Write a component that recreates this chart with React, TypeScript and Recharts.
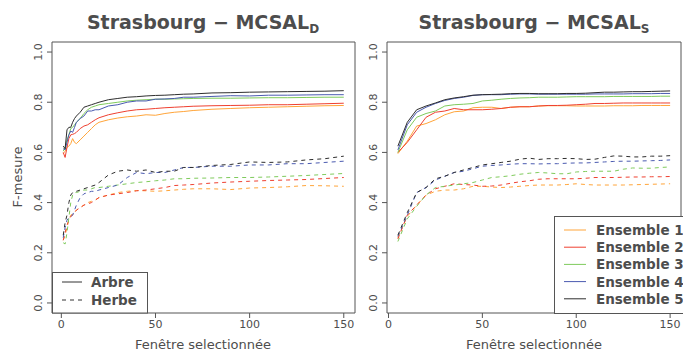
import React from 'react';
import { LineChart, Line, XAxis, YAxis, ReferenceArea } from 'recharts';

// MCSAL_D : fenêtres 1..150
const xD = [1, 2, 3, 4, 5, 6, 7, 8, 10, 12, 14, 16, 18, 20, 25, 30, 35, 40, 45, 50, 55, 60, 65, 70, 80, 90, 100, 110, 120, 130, 140, 150];

const dArbre1 = [0.595, 0.605, 0.62, 0.625, 0.635, 0.655, 0.64, 0.635, 0.65, 0.665, 0.68, 0.695, 0.71, 0.72, 0.73, 0.737, 0.742, 0.745, 0.75, 0.748, 0.755, 0.76, 0.763, 0.767, 0.772, 0.775, 0.778, 0.78, 0.782, 0.784, 0.786, 0.787];
const dArbre2 = [0.6, 0.58, 0.62, 0.655, 0.67, 0.672, 0.675, 0.68, 0.695, 0.705, 0.71, 0.72, 0.73, 0.738, 0.75, 0.758, 0.765, 0.77, 0.772, 0.775, 0.778, 0.78, 0.782, 0.784, 0.786, 0.787, 0.788, 0.79, 0.79, 0.792, 0.794, 0.796];
const dArbre3 = [0.605, 0.62, 0.65, 0.67, 0.695, 0.7, 0.71, 0.72, 0.735, 0.755, 0.77, 0.78, 0.785, 0.79, 0.795, 0.8, 0.805, 0.808, 0.81, 0.812, 0.812, 0.813, 0.814, 0.815, 0.816, 0.816, 0.817, 0.818, 0.818, 0.819, 0.82, 0.82];
const dArbre4 = [0.615, 0.61, 0.64, 0.67, 0.685, 0.68, 0.7, 0.72, 0.735, 0.745, 0.765, 0.765, 0.77, 0.77, 0.785, 0.79, 0.8, 0.805, 0.805, 0.812, 0.813, 0.815, 0.82, 0.82, 0.823, 0.826, 0.825, 0.828, 0.828, 0.829, 0.83, 0.83];
const dArbre5 = [0.625, 0.615, 0.69, 0.7, 0.7, 0.72, 0.735, 0.745, 0.76, 0.78, 0.785, 0.79, 0.795, 0.8, 0.81, 0.815, 0.82, 0.822, 0.825, 0.827, 0.828, 0.83, 0.832, 0.833, 0.837, 0.838, 0.84, 0.841, 0.842, 0.843, 0.844, 0.846];

const dHerbe1 = [0.25, 0.27, 0.3, 0.33, 0.35, 0.355, 0.36, 0.37, 0.38, 0.39, 0.4, 0.405, 0.41, 0.42, 0.43, 0.44, 0.445, 0.448, 0.447, 0.445, 0.447, 0.45, 0.453, 0.455, 0.455, 0.452, 0.458, 0.46, 0.463, 0.468, 0.467, 0.465];
const dHerbe2 = [0.25, 0.28, 0.31, 0.33, 0.345, 0.35, 0.36, 0.37, 0.38, 0.39, 0.395, 0.4, 0.41, 0.42, 0.43, 0.435, 0.44, 0.447, 0.45, 0.455, 0.46, 0.468, 0.47, 0.472, 0.478, 0.482, 0.485, 0.488, 0.49, 0.492, 0.496, 0.5];
const dHerbe3 = [0.24, 0.235, 0.28, 0.34, 0.4, 0.43, 0.44, 0.44, 0.445, 0.45, 0.45, 0.455, 0.46, 0.46, 0.465, 0.47, 0.475, 0.48, 0.483, 0.487, 0.49, 0.495, 0.495, 0.497, 0.498, 0.5, 0.5, 0.502, 0.505, 0.508, 0.512, 0.516];
const dHerbe4 = [0.26, 0.3, 0.33, 0.34, 0.345, 0.35, 0.37, 0.39, 0.42, 0.435, 0.44, 0.445, 0.445, 0.45, 0.46, 0.47, 0.5, 0.52, 0.515, 0.52, 0.52, 0.53, 0.54, 0.54, 0.545, 0.545, 0.55, 0.55, 0.555, 0.555, 0.56, 0.565];
const dHerbe5 = [0.27, 0.32, 0.35, 0.4, 0.43, 0.44, 0.44, 0.445, 0.45, 0.455, 0.46, 0.465, 0.47, 0.48, 0.51, 0.525, 0.53, 0.525, 0.53, 0.52, 0.525, 0.525, 0.54, 0.54, 0.548, 0.552, 0.562, 0.56, 0.562, 0.57, 0.575, 0.585];

// MCSAL_S : pas de 5
const xS = [5, 10, 15, 20, 25, 30, 35, 40, 45, 50, 55, 60, 65, 70, 75, 80, 85, 90, 95, 100, 105, 110, 115, 120, 125, 130, 135, 140, 145, 150];

const sArbre1 = [0.595, 0.645, 0.705, 0.715, 0.73, 0.75, 0.762, 0.765, 0.778, 0.78, 0.78, 0.775, 0.78, 0.782, 0.782, 0.785, 0.786, 0.786, 0.786, 0.785, 0.785, 0.785, 0.785, 0.786, 0.786, 0.786, 0.787, 0.787, 0.787, 0.787];
const sArbre2 = [0.6, 0.64, 0.69, 0.74, 0.76, 0.765, 0.775, 0.77, 0.77, 0.77, 0.772, 0.775, 0.78, 0.782, 0.782, 0.785, 0.787, 0.787, 0.788, 0.79, 0.792, 0.795, 0.795, 0.796, 0.797, 0.797, 0.797, 0.797, 0.797, 0.797];
const sArbre3 = [0.6, 0.69, 0.74, 0.755, 0.765, 0.785, 0.79, 0.792, 0.795, 0.805, 0.808, 0.812, 0.815, 0.817, 0.818, 0.82, 0.82, 0.82, 0.821, 0.822, 0.822, 0.822, 0.822, 0.823, 0.823, 0.823, 0.823, 0.823, 0.824, 0.824];
const sArbre4 = [0.61, 0.71, 0.76, 0.78, 0.795, 0.807, 0.815, 0.82, 0.827, 0.83, 0.83, 0.83, 0.832, 0.833, 0.833, 0.832, 0.832, 0.832, 0.832, 0.832, 0.832, 0.833, 0.833, 0.833, 0.833, 0.834, 0.834, 0.834, 0.835, 0.835];
const sArbre5 = [0.625, 0.72, 0.77, 0.785, 0.797, 0.81, 0.817, 0.822, 0.828, 0.83, 0.831, 0.832, 0.834, 0.835, 0.835, 0.834, 0.834, 0.834, 0.835, 0.835, 0.836, 0.838, 0.84, 0.84, 0.841, 0.842, 0.842, 0.843, 0.844, 0.845];

const sHerbe1 = [0.26, 0.345, 0.39, 0.43, 0.445, 0.45, 0.45, 0.455, 0.465, 0.465, 0.462, 0.46, 0.462, 0.465, 0.468, 0.47, 0.47, 0.47, 0.472, 0.475, 0.472, 0.47, 0.47, 0.47, 0.47, 0.471, 0.472, 0.473, 0.474, 0.475];
const sHerbe2 = [0.255, 0.35, 0.39, 0.43, 0.455, 0.465, 0.475, 0.472, 0.47, 0.465, 0.466, 0.47, 0.477, 0.483, 0.487, 0.493, 0.495, 0.495, 0.495, 0.495, 0.497, 0.5, 0.5, 0.5, 0.501, 0.502, 0.502, 0.503, 0.503, 0.504];
const sHerbe3 = [0.245, 0.335, 0.385, 0.43, 0.46, 0.465, 0.47, 0.475, 0.48, 0.49, 0.5, 0.503, 0.507, 0.513, 0.517, 0.52, 0.518, 0.515, 0.515, 0.522, 0.524, 0.525, 0.525, 0.525, 0.533, 0.538, 0.537, 0.537, 0.54, 0.542];
const sHerbe4 = [0.265, 0.35, 0.44, 0.46, 0.49, 0.505, 0.52, 0.525, 0.535, 0.545, 0.548, 0.55, 0.553, 0.555, 0.555, 0.554, 0.555, 0.555, 0.557, 0.558, 0.558, 0.56, 0.562, 0.564, 0.565, 0.565, 0.566, 0.567, 0.568, 0.57];
const sHerbe5 = [0.27, 0.36, 0.44, 0.46, 0.495, 0.505, 0.52, 0.53, 0.54, 0.55, 0.555, 0.56, 0.565, 0.573, 0.577, 0.572, 0.575, 0.575, 0.576, 0.575, 0.572, 0.573, 0.58, 0.586, 0.585, 0.582, 0.582, 0.585, 0.585, 0.587];

const ensembles = ['Ensemble 1', 'Ensemble 2', 'Ensemble 3', 'Ensemble 4', 'Ensemble 5'];
const colors = ['#ffa53a', '#ef4030', '#7fcb5c', '#4a5ab0', '#2e2e2e'];
const xTicks = [0, 50, 100, 150];
const yTicks = [0, 0.2, 0.4, 0.6, 0.8, 1.0];
const yDomain = [-0.04, 1.04];

const textColor = '#4d4d4d';
const font = 'DejaVu Sans';

function buildRows(x: number[], arbre: number[][], herbe: number[][]) {
  return x.map((v, i) => {
    const row: any = { x: v };
    arbre.forEach((s, k) => (row['a' + k] = s[i]));
    herbe.forEach((s, k) => (row['h' + k] = s[i]));
    return row;
  });
}

const rowsD = buildRows(xD, [dArbre1, dArbre2, dArbre3, dArbre4, dArbre5], [dHerbe1, dHerbe2, dHerbe3, dHerbe4, dHerbe5]);
const rowsS = buildRows(xS, [sArbre1, sArbre2, sArbre3, sArbre4, sArbre5], [sHerbe1, sHerbe2, sHerbe3, sHerbe4, sHerbe5]);

const YTick = (props: any) => {
  const { x, y, payload } = props;
  return (
    <text
      transform={`translate(${x - 3},${y}) rotate(-90)`}
      textAnchor="middle"
      fontSize={11}
      fill={textColor}
      fontFamily={font}
    >
      {Number(payload.value).toFixed(1)}
    </text>
  );
};

interface PanelProps {
  rows: any[];
  xDomain: number[];
  left: number;
  width: number;
  margin: { top: number; right: number; bottom: number; left: number };
}

const Panel: React.FC<PanelProps> = ({ rows, xDomain, left, width, margin }) => (
  <div style={{ position: 'absolute', left, top: 0 }}>
    <LineChart width={width} height={354} data={rows} margin={margin}>
      <XAxis
        dataKey="x"
        type="number"
        domain={xDomain}
        ticks={xTicks}
        allowDataOverflow
        height={30}
        axisLine={false}
        tickSize={5}
        tickLine={{ stroke: '#555' }}
        tick={{ fontSize: 11, fill: textColor, fontFamily: font }}
      />
      <YAxis
        type="number"
        domain={yDomain}
        ticks={yTicks}
        allowDataOverflow
        width={40}
        axisLine={false}
        tickSize={5}
        tickLine={{ stroke: '#555' }}
        tick={<YTick />}
      />
      <ReferenceArea
        x1={xDomain[0]}
        x2={xDomain[1]}
        y1={yDomain[0]}
        y2={yDomain[1]}
        fill="none"
        stroke="#555"
        strokeWidth={1}
        ifOverflow="visible"
      />
      {colors.map((c, k) => (
        <Line
          key={'a' + k}
          type="linear"
          dataKey={'a' + k}
          stroke={c}
          strokeWidth={1}
          dot={false}
          isAnimationActive={false}
        />
      ))}
      {colors.map((c, k) => (
        <Line
          key={'h' + k}
          type="linear"
          dataKey={'h' + k}
          stroke={c}
          strokeWidth={1}
          strokeDasharray="4 4"
          dot={false}
          isAnimationActive={false}
        />
      ))}
    </LineChart>
  </div>
);

const App: React.FC = () => {
  return (
    <div style={{ position: 'absolute', left: 0, top: 0, width: 683, height: 354, background: '#fff', overflow: 'hidden' }}>
      <Panel rows={rowsD} xDomain={[-4.96, 155.96]} left={0} width={365} margin={{ top: 42, right: 10, bottom: 11, left: 12 }} />
      <Panel rows={rowsS} xDomain={[-0.8, 155.8]} left={340} width={343} margin={{ top: 42, right: 2, bottom: 11, left: 7 }} />
      <svg width={683} height={354} style={{ position: 'absolute', left: 0, top: 0, pointerEvents: 'none' }} fontFamily={font}>
        <text x={203} y={29} textAnchor="middle" fontSize={19} fontWeight="bold" fill={textColor}>
          Strasbourg − MCSAL<tspan dy={4} fontSize={12}>D</tspan>
        </text>
        <text x={534} y={29} textAnchor="middle" fontSize={19} fontWeight="bold" fill={textColor}>
          Strasbourg − MCSAL<tspan dy={4} fontSize={12}>S</tspan>
        </text>
        <text transform="translate(22,177) rotate(-90)" textAnchor="middle" fontSize={13} fill={textColor}>
          F-mesure
        </text>
        <text x={203} y={349} textAnchor="middle" fontSize={13} fill={textColor}>Fenêtre selectionnée</text>
        <text x={534} y={349} textAnchor="middle" fontSize={13} fill={textColor}>Fenêtre selectionnée</text>

        {/* légende type de surface */}
        <rect x={52.5} y={272.5} width={95} height={40.5} fill="#fff" stroke="#555" />
        <line x1={62} x2={82} y1={282} y2={282} stroke="#333" />
        <text x={91} y={287} fontSize={13.5} fontWeight="bold" fill={textColor}>Arbre</text>
        <line x1={62} x2={82} y1={300} y2={300} stroke="#333" strokeDasharray="4 4" />
        <text x={91} y={305} fontSize={13.5} fontWeight="bold" fill={textColor}>Herbe</text>

        {/* légende ensembles */}
        <rect x={554.5} y={216.5} width={140} height={97} fill="#fff" stroke="#555" />
        {ensembles.map((name, k) => (
          <g key={name}>
            <line x1={564} x2={586} y1={230 + k * 17.2} y2={230 + k * 17.2} stroke={colors[k]} />
            <text x={596} y={235 + k * 17.2} fontSize={13.5} fontWeight="bold" fill={textColor}>{name}</text>
          </g>
        ))}
      </svg>
    </div>
  );
};

export default App;
